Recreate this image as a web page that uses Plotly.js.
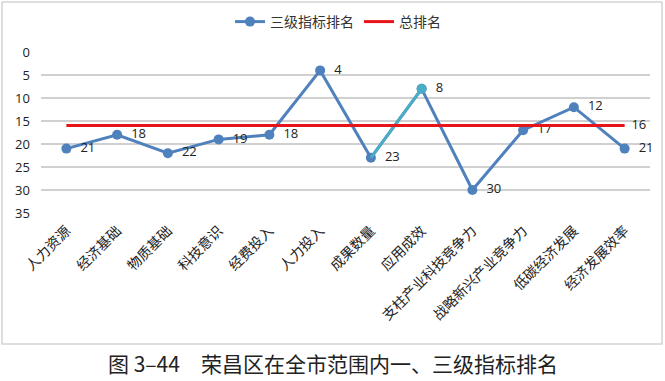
<!DOCTYPE html>
<html>
<head>
<meta charset="utf-8">
<script src="https://cdn.plot.ly/plotly-3.0.1.min.js"></script>
<style>html,body{margin:0;padding:0;background:#fff;}#chart{width:665px;height:381px;}</style>
</head>
<body>
<div id="chart"></div>
<script>
const categories = ["人力资源","经济基础","物质基础","科技意识","经费投入","人力投入","成果数量","应用成效","支柱产业科技竞争力","战略新兴产业竞争力","低碳经济发展","经济发展效率"];
const levelRank = [21,18,22,19,18,4,23,8,30,17,12,21];
const totalRank = [16,16,16,16,16,16,16,16,16,16,16,16];
const highlightIdx = [6,7];
const yTicks = [0,5,10,15,20,25,30,35];

const blue = "#4f81bd", teal = "#4bacc6", red = "#e8141b";
const numFont = {family:"Open Sans, Liberation Sans, sans-serif", size:13, color:"#222"};
const cjk = "Noto Sans CJK SC, sans-serif";

const traces = [
  {x:categories, y:levelRank, name:"三级指标排名", type:"scatter", mode:"lines+markers+text",
   line:{color:blue,width:3}, marker:{color:blue,size:10},
   text:levelRank.map(v=>"  "+v), textposition:"middle right", textfont:numFont, hoverinfo:"none", cliponaxis:false},
  {x:highlightIdx.map(i=>categories[i]), y:highlightIdx.map(i=>levelRank[i]), showlegend:false,
   type:"scatter", mode:"lines", line:{color:teal,width:3}, hoverinfo:"none"},
  {x:[categories[7]], y:[levelRank[7]], showlegend:false, type:"scatter", mode:"markers",
   marker:{color:teal,size:10}, hoverinfo:"none"},
  {x:categories, y:totalRank, name:"总排名", type:"scatter", mode:"lines+text",
   line:{color:red,width:3}, cliponaxis:false,
   text:totalRank.map((v,i)=> i===totalRank.length-1 ? "  "+v : ""), textposition:"middle right", textfont:numFont, hoverinfo:"none"}
];

const L=41, R=650, T=52, B=213;
const pw=R-L, ph=B-T;
const px = p => (p-L)/pw;
const py = p => (B-p)/ph;

const layout = {
  width:665, height:381,
  margin:{l:L, r:665-R, t:T, b:381-B, pad:0, autoexpand:false},
  paper_bgcolor:"#fff", plot_bgcolor:"#fff",
  showlegend:true,
  legend:{orientation:"h", x:px(338), xanchor:"center", y:py(22), yanchor:"middle",
    font:{family:cjk, size:14, color:"#333"}, traceorder:"normal"},
  xaxis:{type:"category", range:[-0.5, categories.length-0.5], tickangle:-45, showgrid:false, zeroline:false, showline:false, ticks:"",
    tickfont:{family:cjk, size:14, color:"#222"}, ticklabelstandoff:6, automargin:false, fixedrange:true},
  yaxis:{range:[35,0], tickmode:"array", tickvals:yTicks, ticktext:yTicks.map(v=>v+"   "), showgrid:true, gridcolor:"#d0d0d0", gridwidth:1.2, zeroline:false,
    showline:false, ticks:"", tickfont:numFont, automargin:false, fixedrange:true},
  shapes:[{type:"rect", xref:"paper", yref:"paper", x0:px(2), x1:px(662), y0:py(344), y1:py(2),
    line:{color:"#d4d4d4", width:1.5}, layer:"above"}],
  annotations:[{xref:"paper", yref:"paper", x:px(333), y:py(363), xanchor:"center", yanchor:"middle",
    showarrow:false, text:"图 3–44　荣昌区在全市范围内一、三级指标排名",
    font:{family:cjk, size:21, color:"#222"}}]
};

Plotly.newPlot("chart", traces, layout, {staticPlot:true, displayModeBar:false});
</script>
</body>
</html>
